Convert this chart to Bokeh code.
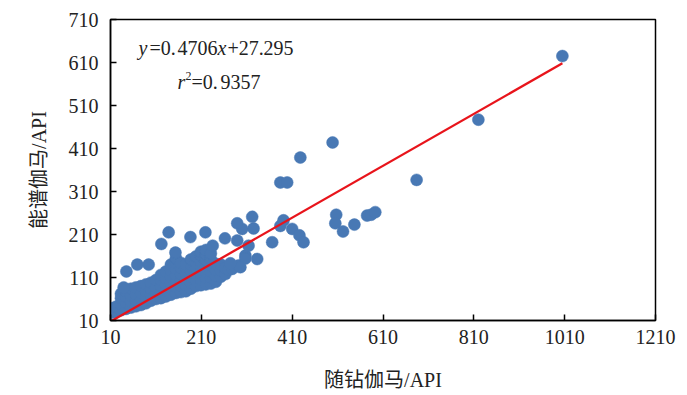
from bokeh.plotting import figure
from bokeh.models import FixedTicker, Label
from bokeh.embed import file_html
from bokeh.resources import INLINE

# ---- data ----
gamma_lwd = [
    12, 12, 22, 22,
    33, 33, 33, 33, 44, 44, 44, 44, 55, 55, 55, 55, 66, 66, 66, 66,
    77, 77, 77, 77, 88, 88, 88, 88, 99, 99, 99, 99, 110, 110, 110, 110,
    121, 121, 121, 121, 121, 132, 132, 132, 132, 132,
    143, 143, 143, 143, 143, 143, 154, 154, 154, 154, 154, 154, 154,
    165, 165, 165, 165, 165, 165, 176, 176, 176, 176, 176, 176,
    187, 187, 187, 187, 187, 187, 198, 198, 198, 198, 198, 198,
    209, 209, 209, 209, 209, 209, 209, 220, 220, 220, 220, 220, 220, 220,
    231, 231, 231, 231, 231, 231, 242, 242, 242, 242, 253, 253, 253, 263, 263,
    270, 278, 292, 307, 314, 300, 289, 262, 325, 333, 366, 307, 296, 274,
    138, 186, 219, 122, 69, 94, 45, 39, 153, 235, 322, 289,
    384, 391, 410, 426, 435,
    499, 428, 384, 399, 1005, 820, 684,
    507, 505, 522, 547, 575, 584, 593,
]
gamma_spec = [
    28, 38, 30, 42,
    34, 48, 62, 72, 37, 51, 65, 78, 40, 54, 68, 84, 43, 57, 71, 87,
    46, 60, 74, 90, 50, 64, 78, 94, 56, 70, 84, 98, 60, 74, 88, 104,
    62, 76, 90, 104, 116, 66, 80, 94, 108, 124,
    70, 84, 98, 112, 126, 140, 74, 88, 102, 116, 130, 144, 155,
    76, 90, 104, 118, 132, 144, 78, 92, 106, 120, 134, 140,
    84, 98, 112, 126, 140, 152, 90, 104, 118, 132, 146, 159,
    92, 106, 120, 134, 148, 162, 170, 94, 108, 122, 136, 150, 164, 174,
    96, 110, 124, 138, 152, 166, 100, 114, 128, 142, 112, 126, 140, 118, 132,
    128, 130, 138, 161, 184, 223, 196, 201, 224, 153, 192, 154, 134, 143,
    215, 204, 215, 188, 140, 140, 124, 87, 168, 184, 251, 236,
    230, 243, 223, 208, 192,
    424, 389, 331, 331, 625, 477, 337,
    256, 236, 217, 233, 254, 256, 262,
]
fit_x = [10, 1005]
fit_y = [7.6, 608]
x_ticks = [10, 210, 410, 610, 810, 1010, 1210]
y_ticks = [10, 110, 210, 310, 410, 510, 610, 710]
x_label = "随钻伽马/API"
y_label = "能谱伽马/API"

SERIF = "'Liberation Serif', 'Noto Sans CJK SC'"

p = figure(width=685, height=393, output_backend="svg", toolbar_location=None,
           x_range=(10, 1210), y_range=(10, 710),
           min_border_left=110, min_border_right=30,
           min_border_top=19, min_border_bottom=73)

p.scatter(gamma_lwd, gamma_spec, size=12, fill_color="#4878B4",
          line_color="#4878B4", line_width=0.5)
p.line(fit_x, fit_y, line_color="#E8141B", line_width=2.3)

p.grid.visible = False
p.outline_line_color = "black"
p.outline_line_width = 1.5
p.background_fill_color = "white"
p.border_fill_color = "white"

for ax, ticks in ((p.xaxis, x_ticks), (p.yaxis, y_ticks)):
    ax.ticker = FixedTicker(ticks=ticks)
    ax.major_tick_in = 6
    ax.major_tick_out = 0
    ax.minor_tick_line_color = None
    ax.axis_line_color = "black"
    ax.axis_line_width = 1.5
    ax.major_tick_line_color = "black"
    ax.major_tick_line_width = 1.5
    ax.major_label_text_font = "Liberation Serif"
    ax.major_label_text_font_size = "20px"
    ax.major_label_text_color = "#222222"
    ax.axis_label_text_font = SERIF
    ax.axis_label_text_font_size = "20px"
    ax.axis_label_text_font_style = "normal"
    ax.axis_label_text_color = "#222222"

p.xaxis.axis_label = x_label
p.yaxis.axis_label = y_label
p.xaxis.major_label_standoff = 9
p.yaxis.major_label_standoff = 12
p.xaxis.axis_label_standoff = 22
p.yaxis.axis_label_standoff = 16

# equation annotation pieces
def piece(x, y, txt, dx, italic=False, size="20px", dy=0):
    p.add_layout(Label(x=x, y=y, text=txt, x_offset=dx, y_offset=dy,
                       text_font="Liberation Serif", text_font_size=size,
                       text_font_style="italic" if italic else "normal",
                       text_baseline="middle", text_color="#222222"))

eq_x, eq_y = 71.6, 642.6
piece(eq_x, eq_y, "y", 0, italic=True)
piece(eq_x, eq_y, "=0.", 11)
piece(eq_x, eq_y, "4706", 39)
piece(eq_x, eq_y, "x", 79, italic=True)
piece(eq_x, eq_y, "+27.", 89)
piece(eq_x, eq_y, "295", 125)

r_x, r_y = 157.5, 563.5
piece(r_x, r_y, "r", 0, italic=True)
piece(r_x, r_y, "2", 8, size="12px", dy=6)
piece(r_x, r_y, "=0.", 14)
piece(r_x, r_y, "9357", 43)

open("out.html", "w").write(file_html(p, INLINE))
